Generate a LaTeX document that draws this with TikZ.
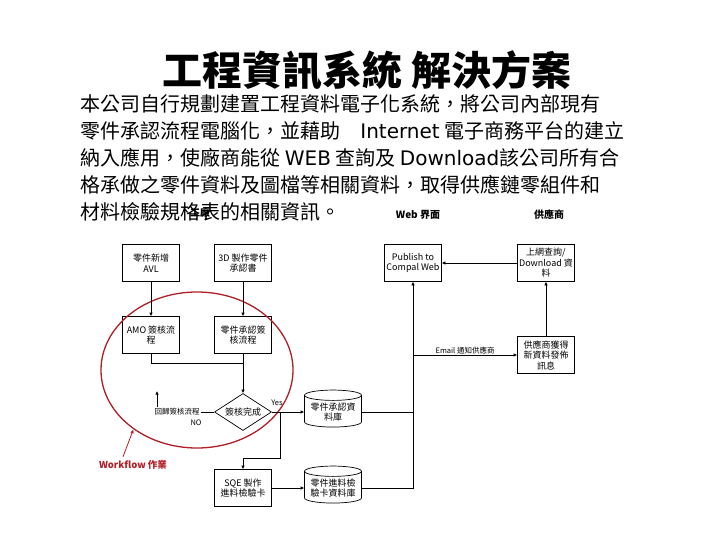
\documentclass[tikz,border=0pt]{standalone}
\usepackage{fontspec}
\setmainfont{Noto Sans CJK TC}
\newfontfamily\latinfont{DejaVu Sans}
\usetikzlibrary{arrows.meta,shapes.geometric}
\definecolor{wfred}{RGB}{176,30,40}

\begin{document}
\begin{tikzpicture}[x=1pt, y=-1pt, line width=0.7pt,
      box/.style={draw, align=center, minimum width=57pt, minimum height=37pt, inner sep=1pt, font=\fontsize{9}{10.5}\selectfont},
      db/.style={draw, cylinder, shape border rotate=90, aspect=0.22, align=center, minimum width=57pt, minimum height=37pt, inner sep=1pt, font=\fontsize{9}{10.5}\selectfont},
      check/.style={draw, diamond, aspect=1.5, minimum width=57pt, minimum height=37pt, inner sep=0pt, font=\fontsize{9}{10.5}\selectfont},
      small/.style={inner sep=1pt, font=\fontsize{7.5}{9}\selectfont},
      head/.style={font=\fontsize{10}{12}\selectfont\bfseries},
      arrow/.style={-{Latex[length=3.5pt,width=3.5pt]}}
    ]
    \useasboundingbox (0,0) rectangle (720,540);

    \node[font=\fontsize{40}{44}\selectfont\bfseries] (title) at (367,70) {工程資訊系統 解決方案};
    \node[anchor=north west, align=left, inner sep=0pt, font=\fontsize{20}{27}\selectfont] (intro) at (80,94)
      {本公司自行規劃建置工程資料電子化系統，將公司內部現有\\
       零件承認流程電腦化，並藉助　{\latinfont Internet} 電子商務平台的建立\\
       納入應用，使廠商能從 {\latinfont WEB} 查詢及 {\latinfont Download}該公司所有合\\
       格承做之零件資料及圖檔等相關資料，取得供應鏈零組件和\\
       材料檢驗規格表的相關資訊。};

    % column heads
    \node[head] (hfab) at (200,213) {工廠};
    \node[head] (hweb) at (418,215) {Web 界面};
    \node[head] (hsup) at (549,215) {供應商};

    % factory side
    \node[box] (avl) at (151,263) {零件新增\\AVL};
    \node[box] (draft) at (243,263) {3D 製作零件\\承認書};
    \node[box] (amo) at (151,335) {AMO 簽核流\\程};
    \node[box] (sign) at (243,335) {零件承認簽\\核流程};
    \node[check] (done) at (243,412) {簽核完成};
    \node[small] (back) at (177,412) {回歸簽核流程};
    \node[small] (no) at (196,423) {NO};
    \node[small] (yes) at (277,403) {Yes};
    \node[db] (partdb) at (333,412) {零件承認資\\料庫};
    \node[box] (sqe) at (243,488) {SQE 製作\\進料檢驗卡};
    \node[db] (cardb) at (333,488) {零件進料檢\\驗卡資料庫};

    % web and supplier side
    \node[box] (pub) at (413,263) {Publish to\\Compal Web};
    \node[box] (query) at (546,263) {上網查詢/\\Download 資\\料};
    \node[box] (notify) at (546,355) {供應商獲得\\新資料發佈\\訊息};

    % workflow ring
    \node[draw=wfred, line width=1.3pt, ellipse, minimum width=192pt, minimum height=156pt, inner sep=0pt] (wf) at (197,370) {};
    \node[text=wfred, font=\fontsize{9.5}{11}\selectfont\bfseries] (wflabel) at (133,465) {Workflow 作業};

    \coordinate (join) at (243,363);
    \coordinate (ret) at (157,391);
    \coordinate (split) at (280,412);
    \coordinate (bend) at (280,458);

    \draw[arrow] (avl) -- (amo);
    \draw[arrow] (draft) -- (sign);
    \draw (amo.south) |- (join);
    \draw[arrow] (sign) -- (done);
    \draw (done) -- (back);
    \draw[arrow] (back.north -| ret) -- (ret);
    \draw[arrow] (done) -- (partdb);
    \draw[arrow] (split) -- (bend) -| (sqe.north);
    \draw[arrow] (sqe) -- (cardb);
    \draw (partdb) -- (partdb -| pub);
    \draw[arrow] (cardb) -| (pub);
    \draw[arrow] (notify.west -| pub) -- node[above, small] {Email 通知供應商} (notify);
    \draw[arrow] (notify) -- (query);
    \draw[arrow] (query) -- (pub);
    \draw[wfred, line width=0.8pt, -{Latex[length=4pt,width=3.5pt]}] ([xshift=-10pt]wflabel.north) -- (wf.223);
  \end{tikzpicture}
\end{document}
